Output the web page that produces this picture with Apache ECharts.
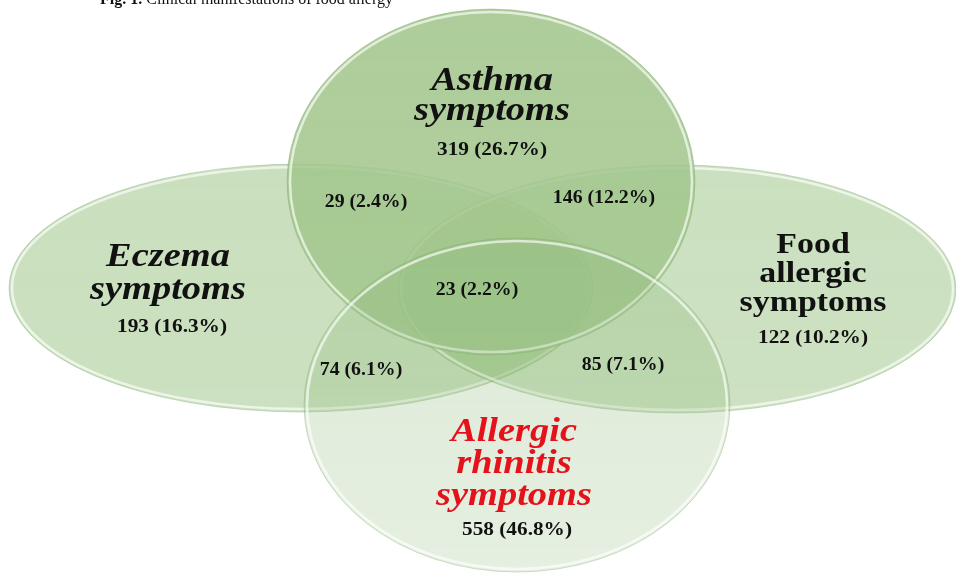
<!DOCTYPE html>
<html>
<head>
<meta charset="utf-8">
<script src="https://cdn.jsdelivr.net/npm/echarts@6/dist/echarts.min.js"></script>
<style>
  html, body { margin: 0; padding: 0; background: #fff; }
  #main { width: 956px; height: 583px; }
</style>
</head>
<body>
<div id="main"></div>
<script>
// sets: asthma, eczema, food, rhinitis
var setNames = ['Asthma\nsymptoms', 'Eczema\nsymptoms', 'Food\nallergic\nsymptoms', 'Allergic\nrhinitis\nsymptoms']
var setCounts = [319, 193, 122, 558]
var setPercents = [26.7, 16.3, 10.2, 46.8]

// overlaps
var overlapNames = ['Asthma+Eczema', 'Asthma+Food', 'All', 'Eczema+Rhinitis', 'Food+Rhinitis']
var overlapCounts = [29, 146, 23, 74, 85]
var overlapPercents = [2.4, 12.2, 2.2, 6.1, 7.1]

// layout, in pixel units of the hidden axes
var ellipseLayout = [
  [491, 182, 204, 173],
  [301, 288, 292, 124],
  [677, 289, 279, 124],
  [517, 405, 213, 167]
]
var drawOrder = [1, 2, 0, 3]
var namePos = [[492, 96], [168, 274], [813, 274], [514, 464]]
var countPos = [[492, 150], [172, 327], [813, 338], [517, 530]]
var overlapPos = [[366, 202], [604, 198], [477, 290], [361, 370], [623, 365]]

var serif = '"Liberation Serif", "Times New Roman", serif'
var nameStyle = [
  { italic: true, size: 34, lh: 30, color: '#111' },
  { italic: true, size: 34, lh: 33, color: '#111' },
  { italic: false, size: 30, lh: 29, color: '#111' },
  { italic: true, size: 34, lh: 32, color: '#e5121b' }
]
var fills = [
  ['rgba(162,198,140,0.88)', 'rgba(162,198,140,0.84)'],
  ['rgba(120,175,90,0.40)', 'rgba(120,175,90,0.38)'],
  ['rgba(120,175,90,0.39)', 'rgba(120,175,90,0.37)'],
  ['rgba(140,184,120,0.30)', 'rgba(140,184,120,0.22)']
]

function fmt (n, p) {
  return n + ' (' + p.toFixed(1) + '%)'
}

function ellipsePath (cx, cy, rx, ry) {
  return 'M' + (cx - rx) + ' ' + cy +
    ' A' + rx + ' ' + ry + ' 0 1 0 ' + (cx + rx) + ' ' + cy +
    ' A' + rx + ' ' + ry + ' 0 1 0 ' + (cx - rx) + ' ' + cy + ' Z'
}

var chart = echarts.init(document.getElementById('main'))

var option = {
  animation: false,
  grid: { left: 0, right: 0, top: 0, bottom: 0 },
  xAxis: { type: 'value', min: 0, max: 956, show: false },
  yAxis: { type: 'value', min: 0, max: 583, inverse: true, show: false },
  graphic: [{
    type: 'text',
    left: 100,
    top: -8,
    style: {
      text: '{b|Fig. 1.} Clinical manifestations of food allergy',
      rich: { b: { fontWeight: 'bold', fontFamily: serif, fontSize: 16, fill: '#111' } },
      font: '16px ' + serif,
      fill: '#111'
    }
  }],
  series: [
    {
      type: 'custom',
      name: 'sets',
      coordinateSystem: 'cartesian2d',
      silent: true,
      data: drawOrder.map(function (i) {
        return ellipseLayout[i].concat([i])
      }),
      renderItem: function (params, api) {
        var c = api.coord([api.value(0), api.value(1)])
        var s = api.size([api.value(2) * 2, api.value(3) * 2])
        var rx = s[0] / 2
        var ry = s[1] / 2
        var k = api.value(4)
        return {
          type: 'group',
          children: [
            {
              type: 'path',
              shape: { pathData: ellipsePath(c[0], c[1], rx, ry) },
              style: {
                fill: new echarts.graphic.LinearGradient(0, 0, 0, 1, [
                  { offset: 0, color: fills[k][0] },
                  { offset: 1, color: fills[k][1] }
                ]),
                stroke: 'rgba(120,165,100,0.35)',
                lineWidth: 1
              }
            },
            {
              type: 'path',
              shape: { pathData: ellipsePath(c[0], c[1], rx - 3, ry - 3) },
              style: {
                fill: null,
                stroke: 'rgba(255,255,255,0.65)',
                lineWidth: 2.5
              }
            }
          ]
        }
      }
    },
    {
      type: 'custom',
      name: 'set labels',
      coordinateSystem: 'cartesian2d',
      silent: true,
      data: setNames.map(function (n, i) {
        return [namePos[i][0], namePos[i][1], countPos[i][0], countPos[i][1], i]
      }),
      renderItem: function (params, api) {
        var i = api.value(4)
        var p1 = api.coord([api.value(0), api.value(1)])
        var p2 = api.coord([api.value(2), api.value(3)])
        var st = nameStyle[i]
        return {
          type: 'group',
          children: [
            {
              type: 'text',
              x: p1[0],
              y: p1[1],
              scaleX: 1.13,
              style: {
                text: setNames[i],
                fontFamily: serif,
                fontWeight: 'bold',
                fontStyle: st.italic ? 'italic' : 'normal',
                fontSize: st.size,
                lineHeight: st.lh,
                fill: st.color,
                align: 'center',
                verticalAlign: 'middle'
              }
            },
            {
              type: 'text',
              x: p2[0],
              y: p2[1],
              scaleX: 1.12,
              style: {
                text: fmt(setCounts[i], setPercents[i]),
                fontFamily: serif,
                fontWeight: 'bold',
                fontSize: 19,
                fill: '#111',
                align: 'center',
                verticalAlign: 'middle'
              }
            }
          ]
        }
      }
    },
    {
      type: 'custom',
      name: 'overlap labels',
      coordinateSystem: 'cartesian2d',
      silent: true,
      data: overlapNames.map(function (n, i) {
        return [overlapPos[i][0], overlapPos[i][1], i]
      }),
      renderItem: function (params, api) {
        var i = api.value(2)
        var p = api.coord([api.value(0), api.value(1)])
        return {
          type: 'text',
          x: p[0],
          y: p[1],
          scaleX: 1.1,
          style: {
            text: fmt(overlapCounts[i], overlapPercents[i]),
            fontFamily: serif,
            fontWeight: 'bold',
            fontSize: 18,
            fill: '#111',
            align: 'center',
            verticalAlign: 'middle'
          }
        }
      }
    }
  ]
}

chart.setOption(option)
window.onresize = function () {
  chart.resize()
}
</script>
</body>
</html>
